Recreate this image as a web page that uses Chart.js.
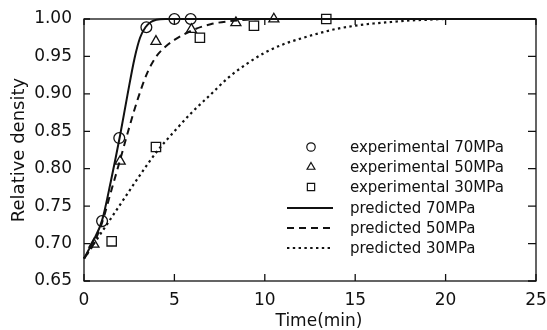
<!DOCTYPE html>
<html>
<head>
<meta charset="utf-8">
<script src="https://cdn.jsdelivr.net/npm/chart.js@4.4.1/dist/chart.umd.min.js"></script>
<style>
  html, body { margin: 0; padding: 0; background: #fff; }
  #wrap { width: 547px; height: 330px; position: relative; }
</style>
</head>
<body>
<div id="wrap"><canvas id="densityChart"></canvas></div>
<script>
// ===== data =====
const exp70Time = [1.0, 1.95, 3.45, 5.0, 5.9];
const exp70Density = [0.730, 0.841, 0.989, 1.000, 1.000];

const exp50Time = [0.55, 2.0, 3.98, 5.94, 8.4, 10.5];
const exp50Density = [0.699, 0.810, 0.970, 0.986, 0.995, 1.000];

const exp30Time = [1.53, 3.98, 6.41, 9.4, 13.4];
const exp30Density = [0.703, 0.829, 0.975, 0.991, 1.000];

const pred70Time = [0, 0.5, 1.0, 1.5, 2.0, 2.4, 2.8, 3.1, 3.4, 3.7, 4.0, 4.5, 5, 25];
const pred70Density = [0.680, 0.703, 0.731, 0.785, 0.845, 0.898, 0.948, 0.975, 0.989, 0.996, 0.999, 1.0, 1.0, 1.0];

const pred50Time = [0, 0.5, 1.0, 1.5, 2.0, 2.5, 3.0, 3.5, 4.0, 4.5, 5, 6, 7, 8, 9, 10, 25];
const pred50Density = [0.680, 0.698, 0.728, 0.770, 0.812, 0.855, 0.895, 0.928, 0.950, 0.963, 0.972, 0.985, 0.993, 0.997, 0.999, 1.0, 1.0];

const pred30Time = [0, 1, 2, 3, 4, 5, 6, 7, 8, 9, 10, 11, 12, 13, 14, 15, 16, 17, 18, 19, 20, 25];
const pred30Density = [0.680, 0.716, 0.752, 0.788, 0.822, 0.850, 0.876, 0.899, 0.922, 0.940, 0.955, 0.966, 0.974, 0.981, 0.987, 0.991, 0.994, 0.996, 0.998, 0.999, 1.0, 1.0];

const xAxisTitle = "Time(min)";
const yAxisTitle = "Relative density";

const ink = "#111";
const toPoints = (xs, ys) => xs.map((x, i) => ({ x: x, y: ys[i] }));

/** ===== frame + inward tick marks + x title ===== */
const framePlugin = {
    id: "frame",
    afterDraw(chart) {
        const { ctx, chartArea: a, scales: { x, y } } = chart;
        ctx.save();
        ctx.strokeStyle = ink;
        ctx.lineWidth = 1.3;
        ctx.strokeRect(a.left, a.top, a.right - a.left, a.bottom - a.top);
        ctx.beginPath();
        y.ticks.forEach((t) => {
            const py = y.getPixelForValue(t.value);
            ctx.moveTo(a.left, py);
            ctx.lineTo(a.left + 6, py);
            ctx.moveTo(a.right, py);
            ctx.lineTo(a.right - 8, py);
        });
        x.ticks.forEach((t) => {
            const px = x.getPixelForValue(t.value);
            ctx.moveTo(px, a.bottom);
            ctx.lineTo(px, a.bottom - 7);
            ctx.moveTo(px, a.top);
            ctx.lineTo(px, a.top + 6);
        });
        ctx.stroke();

        ctx.fillStyle = ink;
        ctx.font = "17px 'DejaVu Sans'";
        ctx.textAlign = "center";
        ctx.textBaseline = "middle";
        ctx.fillText(xAxisTitle, (a.left + a.right) / 2 + 9, 322);
        ctx.restore();
    },
};

/** ===== legend inside the plot ===== */
const legendPlugin = {
    id: "insideLegend",
    afterDraw(chart) {
        const { ctx } = chart;
        const rows = [147, 167, 187, 208, 228, 248];
        ctx.save();
        ctx.font = "15px 'DejaVu Sans'";
        ctx.textAlign = "left";
        ctx.textBaseline = "middle";
        chart.data.datasets.forEach((ds, i) => {
            const yy = rows[i];
            ctx.save();
            ctx.strokeStyle = ink;
            if (ds.showLine) {
                ctx.lineWidth = ds.borderWidth;
                ctx.setLineDash(ds.borderDash || []);
                ctx.beginPath();
                ctx.moveTo(287, yy);
                ctx.lineTo(333, yy);
                ctx.stroke();
            } else {
                ctx.fillStyle = "rgba(0,0,0,0)";
                ctx.lineWidth = 1.2;
                Chart.helpers.drawPoint(ctx, {
                    pointStyle: ds.pointStyle,
                    radius: ds.pointRadius * 0.78,
                    rotation: 0,
                    borderWidth: 1.2,
                }, 311, yy);
            }
            ctx.restore();
            ctx.fillStyle = ink;
            ctx.fillText(ds.label, 350, yy + 1);
        });
        ctx.restore();
    },
};

document.addEventListener("DOMContentLoaded", () => {
    Chart.defaults.font.family = "'DejaVu Sans'";
    Chart.defaults.color = ink;

    const ctx = document.getElementById("densityChart").getContext("2d");

    const marker = (label, xs, ys, style, r) => ({
        label: label,
        data: toPoints(xs, ys),
        showLine: false,
        pointStyle: style,
        pointRadius: r,
        pointBorderWidth: 1.3,
        pointBorderColor: ink,
        pointBackgroundColor: "rgba(0,0,0,0)",
        clip: false,
    });

    const curve = (label, xs, ys, dash, w) => ({
        label: label,
        data: toPoints(xs, ys),
        showLine: true,
        borderColor: ink,
        borderWidth: w,
        borderDash: dash,
        pointRadius: 0,
        cubicInterpolationMode: "monotone",
        clip: false,
    });

    new Chart(ctx, {
        type: "scatter",
        data: {
            datasets: [
                marker("experimental 70MPa", exp70Time, exp70Density, "circle", 5.4),
                marker("experimental 50MPa", exp50Time, exp50Density, "triangle", 5.8),
                marker("experimental 30MPa", exp30Time, exp30Density, "rect", 6.6),
                curve("predicted 70MPa", pred70Time, pred70Density, [], 2),
                curve("predicted 50MPa", pred50Time, pred50Density, [7, 5], 2),
                curve("predicted 30MPa", pred30Time, pred30Density, [2.4, 3.4], 2.2),
            ],
        },
        options: {
            responsive: true,
            maintainAspectRatio: false,
            animation: false,
            layout: { padding: { top: 19, right: 11, left: 0, bottom: 0 } },
            plugins: {
                legend: { display: false },
                tooltip: { enabled: false },
            },
            scales: {
                x: {
                    type: "linear",
                    min: 0,
                    max: 25,
                    afterFit: (scale) => {
                        scale.height = 49;
                        scale.paddingLeft = 0;
                        scale.paddingRight = 0;
                    },
                    grid: { display: false, drawTicks: false },
                    border: { display: false },
                    ticks: {
                        stepSize: 5,
                        padding: 9,
                        font: { size: 17 },
                        color: ink,
                        maxRotation: 0,
                    },
                },
                y: {
                    type: "linear",
                    min: 0.65,
                    max: 1.0,
                    afterFit: (scale) => {
                        scale.width = 84;
                        scale.paddingTop = 0;
                        scale.paddingBottom = 0;
                    },
                    grid: { display: false, drawTicks: false },
                    border: { display: false },
                    ticks: {
                        stepSize: 0.05,
                        padding: 12,
                        font: { size: 17 },
                        color: ink,
                        callback: (value) => value.toFixed(2),
                    },
                    title: {
                        display: true,
                        text: yAxisTitle,
                        font: { size: 18 },
                        color: ink,
                        padding: { top: 9, bottom: 0 },
                    },
                },
            },
        },
        plugins: [framePlugin, legendPlugin],
    });
});
</script>
</body>
</html>
